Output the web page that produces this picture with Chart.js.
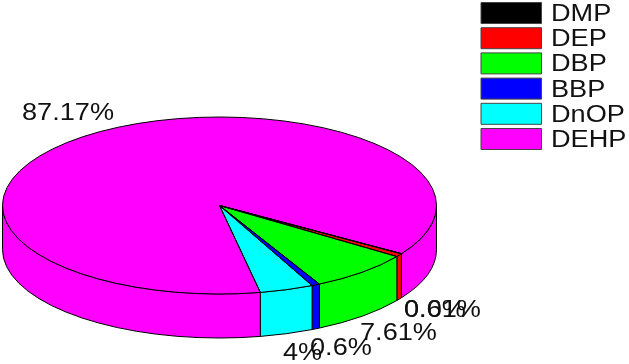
<!DOCTYPE html>
<html>
<head>
<meta charset="utf-8">
<style>html,body{margin:0;padding:0;background:#fff}canvas{display:block}</style>
<script src="https://cdn.jsdelivr.net/npm/chart.js@4/dist/chart.umd.min.js"></script>
</head>
<body>
<canvas id="c" width="629" height="364"></canvas>
<script>
const categories = ['DMP', 'DEP', 'DBP', 'BBP', 'DnOP', 'DEHP'];
const values = [0.01, 0.6, 7.61, 0.6, 4, 87.17];
const valueLabels = ['0.01%', '0.6%', '7.61%', '0.6%', '4%', '87.17%'];
const colors = ['#000000', '#ff0000', '#00ff00', '#0000ff', '#00ffff', '#ff00ff'];

// Layout of the tilted pie in the page
const pie = { cx: 219.5, cy: 205.5, rx: 217, ry: 88.5, depth: 44 };
const labelBaselines = [[404, 317], [404, 317], [360, 340], [310, 355], [283, 360], [22, 120]];
const legendBox = { x: 481, y: 2.5, w: 60.5, h: 21, step: 25.2, textX: 551 };
const textFont = '23px "Liberation Sans", Arial, sans-serif';
const textStretch = 1.18;

function stretchedText(ctx, text, x, y) {
  ctx.save();
  ctx.translate(x, y);
  ctx.scale(textStretch, 1);
  ctx.fillText(text, 0, 0);
  ctx.restore();
}

const pie3d = {
  id: 'pie3d',
  beforeDatasetsDraw(chart) {
    const ctx = chart.ctx;
    const arcs = chart.getDatasetMeta(0).data;
    const TAU = Math.PI * 2;
    ctx.save();
    ctx.lineWidth = 1;
    ctx.strokeStyle = '#000';
    ctx.lineJoin = 'round';

    // Side wall: only the front half (0..PI) of each slice is visible
    arcs.forEach((el, i) => {
      for (const shift of [0, -TAU]) {
        const a0 = Math.max(el.startAngle + shift, 0);
        const a1 = Math.min(el.endAngle + shift, Math.PI);
        if (a1 <= a0) continue;
        ctx.beginPath();
        ctx.ellipse(pie.cx, pie.cy, pie.rx, pie.ry, 0, a0, a1);
        ctx.ellipse(pie.cx, pie.cy + pie.depth, pie.rx, pie.ry, 0, a1, a0, true);
        ctx.closePath();
        ctx.fillStyle = colors[i];
        ctx.fill();
        ctx.stroke();
      }
    });

    // Top face: library arcs, squashed into an ellipse
    arcs.forEach((el) => {
      const R = el.outerRadius;
      ctx.save();
      ctx.translate(pie.cx, pie.cy);
      ctx.scale(pie.rx / R, pie.ry / R);
      ctx.translate(-el.x, -el.y);
      el.draw(ctx);
      ctx.restore();
    });
    arcs.forEach((el) => {
      ctx.beginPath();
      ctx.moveTo(pie.cx, pie.cy);
      ctx.ellipse(pie.cx, pie.cy, pie.rx, pie.ry, 0, el.startAngle, el.endAngle);
      ctx.closePath();
      ctx.stroke();
    });

    // Value labels
    ctx.font = textFont;
    ctx.fillStyle = '#111';
    ctx.textAlign = 'left';
    ctx.textBaseline = 'alphabetic';
    valueLabels.forEach((t, i) => stretchedText(ctx, t, labelBaselines[i][0], labelBaselines[i][1]));

    // Legend
    categories.forEach((name, i) => {
      const y = legendBox.y + i * legendBox.step;
      ctx.fillStyle = colors[i];
      ctx.fillRect(legendBox.x, y, legendBox.w, legendBox.h);
      ctx.strokeStyle = '#444';
      ctx.strokeRect(legendBox.x, y, legendBox.w, legendBox.h);
      ctx.fillStyle = '#111';
      stretchedText(ctx, name, legendBox.textX, y + 18.5);
    });
    ctx.restore();
    return false;
  }
};

new Chart(document.getElementById('c'), {
  type: 'pie',
  data: {
    labels: categories,
    datasets: [{ data: values, backgroundColor: colors, borderWidth: 0 }]
  },
  options: {
    responsive: false,
    animation: false,
    rotation: 123,
    plugins: { legend: { display: false }, tooltip: { enabled: false }, title: { display: false } }
  },
  plugins: [pie3d]
});
</script>
</body>
</html>
